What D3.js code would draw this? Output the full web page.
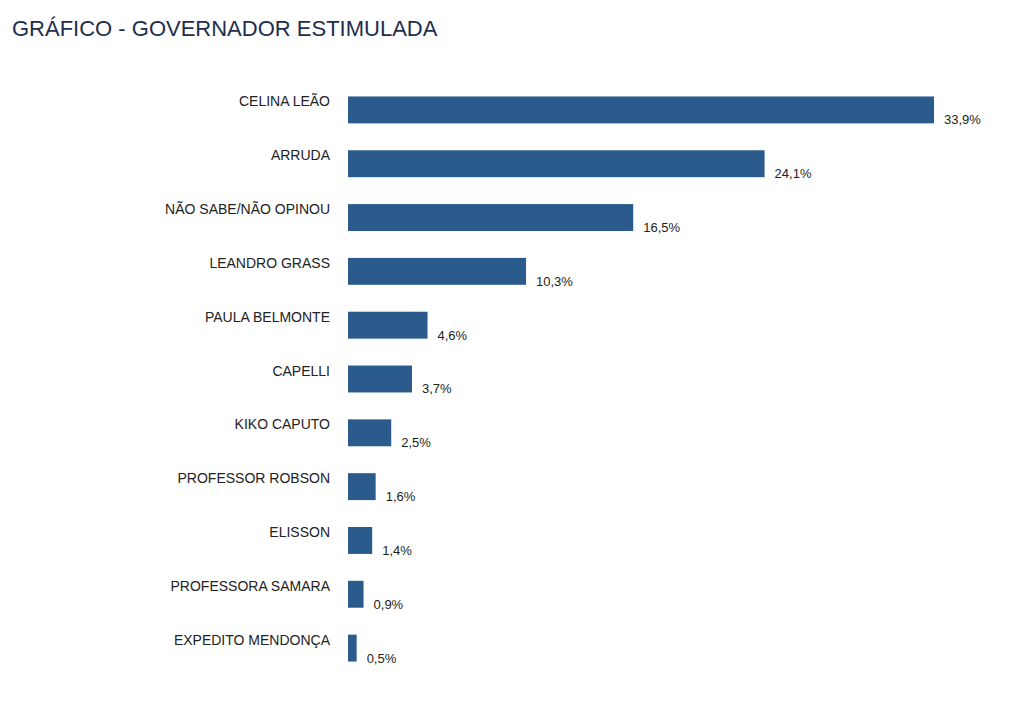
<!DOCTYPE html>
<html><head><meta charset="utf-8">
<script src="https://cdn.jsdelivr.net/npm/d3@7"></script>
<style>body{margin:0;background:#fff;font-family:"Liberation Sans",Arial,sans-serif}</style>
</head><body><svg id="c" width="1024" height="702"></svg>
<script>
const categories = ['CELINA LEÃO','ARRUDA','NÃO SABE/NÃO OPINOU','LEANDRO GRASS','PAULA BELMONTE','CAPELLI','KIKO CAPUTO','PROFESSOR ROBSON','ELISSON','PROFESSORA SAMARA','EXPEDITO MENDONÇA'];
const values = [33.9,24.1,16.5,10.3,4.6,3.7,2.5,1.6,1.4,0.9,0.5];

const svg = d3.select('#c');
svg.append('text').attr('x',12).attr('y',36).attr('font-size',22).attr('fill','#1f2d4e')
  .text('GRÁFICO - GOVERNADOR ESTIMULADA');

const x = d3.scaleLinear().domain([0,33.9]).range([348,934]);
const y = d3.scaleBand().domain(categories).range([83,675]).paddingInner(0.5).paddingOuter(0.25);

const g = svg.append('g');
g.selectAll('rect').data(values).join('rect')
  .attr('x',x(0)).attr('y',(d,i)=>y(categories[i]))
  .attr('width',d=>x(d)-x(0)).attr('height',y.bandwidth())
  .attr('fill','#2a5b8c');
g.selectAll('.lab').data(categories).join('text')
  .attr('x',330).attr('y',d=>y(d)+10).attr('text-anchor','end')
  .attr('font-size',14).attr('fill','#222').text(d=>d);
g.selectAll('.val').data(values).join('text')
  .attr('x',d=>x(d)+10).attr('y',(d,i)=>y(categories[i])+y.bandwidth()+1)
  .attr('font-size',13).attr('fill','#222')
  .text(d=>d.toFixed(1).replace('.',',')+'%');
</script></body></html>
